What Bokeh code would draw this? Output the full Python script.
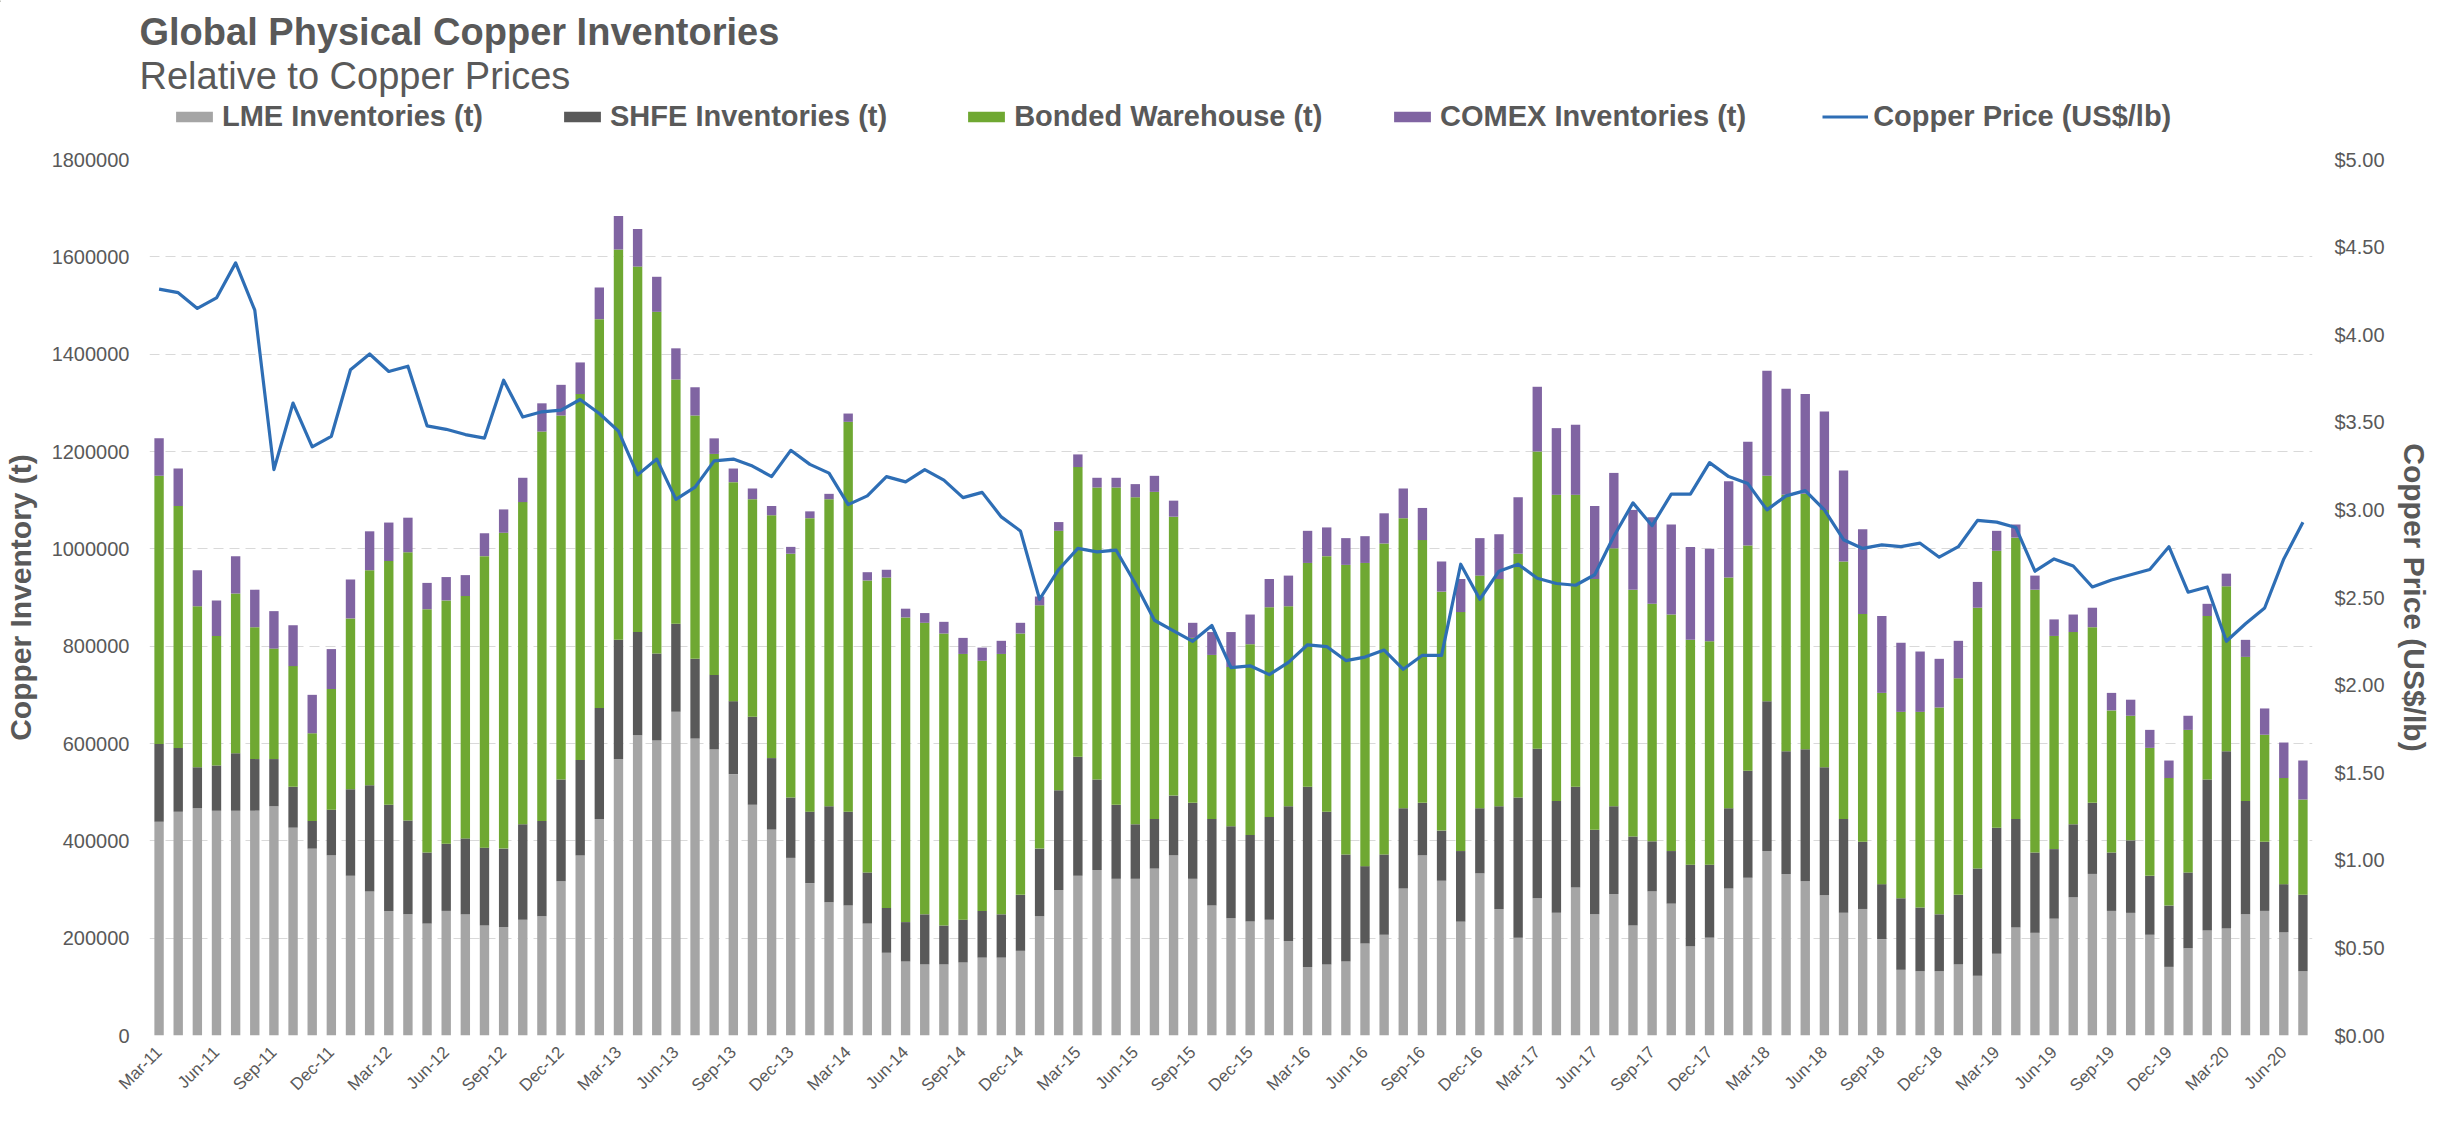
import math
from bokeh.plotting import figure
from bokeh.layouts import column
from bokeh.models import (ColumnDataSource, Range1d, LinearAxis, FixedTicker,
                          NumeralTickFormatter, Legend, LegendItem, Label)
from bokeh.embed import file_html
from bokeh.resources import INLINE

# ---------------- data (monthly, Mar-11 .. Jul-20) ----------------
lme = [439, 460, 467, 462, 462, 462, 471, 427, 384, 370, 328, 296, 256, 249, 230, 256, 249, 226, 223, 238, 245,
       317, 370, 445, 568, 617, 606, 665, 610, 588, 537, 474, 423, 365, 313, 274, 267, 230, 170, 152, 146, 146,
       150, 160, 160, 174, 245, 299, 328, 340, 322, 322, 343, 370, 322, 267, 241, 234, 238, 194,
       141, 146, 152, 189, 207, 302, 370, 318, 234, 333, 260, 201, 282, 252, 304, 249, 291, 226,
       296, 271, 183, 201, 302, 324, 379, 332, 317, 288, 252, 260, 198, 135, 132, 132, 146, 123,
       168, 222, 211, 240, 284, 332, 256, 252, 207, 141, 179, 216, 220, 249, 256, 212, 132]
shfe = [160, 131, 84, 93, 118, 106, 97, 84, 57, 94, 178, 218, 218, 193, 146, 138, 156, 160, 161, 196, 196,
        209, 196, 228, 245, 212, 179, 181, 164, 153, 150, 181, 147, 124, 147, 197, 193, 105, 92, 81, 103, 80,
        88, 96, 89, 115, 139, 205, 245, 186, 152, 112, 102, 123, 156, 178, 189, 178, 211, 277,
        370, 314, 220, 159, 165, 165, 108, 103, 145, 134, 211, 288, 307, 230, 207, 174, 180, 183,
        103, 108, 168, 150, 165, 220, 308, 252, 271, 263, 193, 138, 113, 147, 131, 117, 143, 220,
        259, 223, 165, 143, 150, 146, 120, 149, 121, 126, 156, 310, 364, 233, 142, 99, 157]
bonded = [551, 497, 331, 266, 328, 271, 227, 248, 180, 248, 351, 442, 501, 551, 500, 500, 498, 599, 649, 662, 800,
          748, 752, 799, 802, 751, 702, 502, 500, 454, 450, 447, 499, 501, 603, 631, 801, 600, 679, 626, 599, 600,
          546, 514, 535, 537, 500, 533, 595, 600, 652, 672, 672, 573, 339, 337, 327, 392, 431, 411,
          460, 525, 595, 623, 639, 596, 540, 491, 491, 478, 467, 501, 611, 629, 600, 515, 530, 507,
          488, 486, 462, 459, 474, 463, 463, 527, 525, 529, 529, 468, 393, 383, 402, 425, 445, 536,
          569, 578, 540, 438, 395, 361, 292, 256, 263, 262, 293, 336, 339, 296, 220, 218, 196]
comex = [77, 77, 74, 73, 77, 77, 77, 84, 79, 82, 80, 80, 79, 71, 54, 48, 43, 47, 48, 50, 58,
         63, 65, 65, 69, 77, 72, 64, 58, 32, 28, 22, 19, 14, 14, 11, 17, 17, 16, 18, 20, 24,
         33, 27, 27, 22, 18, 18, 26, 20, 20, 27, 33, 33, 31, 47, 72, 61, 58, 63,
         66, 59, 55, 55, 62, 61, 66, 62, 68, 77, 92, 116, 133, 137, 144, 150, 155, 164,
         178, 185, 191, 190, 198, 213, 216, 218, 205, 202, 187, 174, 158, 142, 124, 100, 77, 53,
         41, 27, 29, 34, 36, 40, 36, 33, 37, 36, 29, 25, 26, 35, 54, 73, 80]
price = [4.26, 4.24, 4.15, 4.21, 4.41, 4.14, 3.23, 3.61, 3.36, 3.42, 3.80, 3.89, 3.79, 3.82, 3.48, 3.46, 3.43, 3.41, 3.74, 3.53, 3.56,
         3.57, 3.63, 3.55, 3.45, 3.20, 3.29, 3.06, 3.13, 3.28, 3.29, 3.25, 3.19, 3.34, 3.26, 3.21, 3.03, 3.08, 3.19, 3.16, 3.23, 3.17,
         3.07, 3.10, 2.96, 2.88, 2.49, 2.66, 2.78, 2.76, 2.77, 2.58, 2.37, 2.31, 2.25, 2.34, 2.10, 2.11, 2.06, 2.13,
         2.23, 2.22, 2.14, 2.16, 2.20, 2.09, 2.17, 2.17, 2.69, 2.49, 2.65, 2.69, 2.61, 2.58, 2.57, 2.63, 2.85, 3.04,
         2.91, 3.09, 3.09, 3.27, 3.19, 3.15, 3.00, 3.08, 3.11, 3.00, 2.83, 2.78, 2.80, 2.79, 2.81, 2.73, 2.79, 2.94,
         2.93, 2.90, 2.65, 2.72, 2.68, 2.56, 2.60, 2.63, 2.66, 2.79, 2.53, 2.56, 2.25, 2.35, 2.44, 2.72, 2.93]

tick_labels = ["Mar-11", "Jun-11", "Sep-11", "Dec-11", "Mar-12", "Jun-12", "Sep-12", "Dec-12",
               "Mar-13", "Jun-13", "Sep-13", "Dec-13", "Mar-14", "Jun-14", "Sep-14", "Dec-14",
               "Mar-15", "Jun-15", "Sep-15", "Dec-15", "Mar-16", "Jun-16", "Sep-16", "Dec-16",
               "Mar-17", "Jun-17", "Sep-17", "Dec-17", "Mar-18", "Jun-18", "Sep-18", "Dec-18",
               "Mar-19", "Jun-19", "Sep-19", "Dec-19", "Mar-20", "Jun-20"]

series_names = ["LME Inventories (t)", "SHFE Inventories (t)", "Bonded Warehouse (t)", "COMEX Inventories (t)"]
line_name = "Copper Price (US$/lb)"
title_text = "Global Physical Copper Inventories"
subtitle_text = "Relative to Copper Prices"

# ---------------- styling ----------------
FONT = "Liberation Sans"
GREY = "#595959"
COLORS = ["#A5A5A5", "#595959", "#6FA832", "#8064A2"]
LINE_COLOR = "#2E6EB5"

W = 2433
HEAD_H = 147            # header (title, subtitle, legend)
MAIN_H = 957            # chart
FL, FR = 149, 2320      # frame left/right in figure px
TOP_B, BOT_B = 12, 60   # main figure top/bottom borders

n = len(lme)
src = ColumnDataSource(dict(
    x=list(range(n)),
    lme=[v * 1000 for v in lme],
    shfe=[v * 1000 for v in shfe],
    bonded=[v * 1000 for v in bonded],
    comex=[v * 1000 for v in comex],
    price=price,
))

# ---------------- header figure ----------------
hf = figure(width=W, height=HEAD_H, output_backend="svg", toolbar_location=None,
            x_range=Range1d(0, W), y_range=Range1d(HEAD_H, 0),
            x_axis_location=None, y_axis_location=None, title=None,
            min_border=0, min_border_left=0, min_border_right=0,
            min_border_top=0, min_border_bottom=0,
            background_fill_color="white", border_fill_color="white")
hf.frame_align = False
hf.outline_line_color = None
hf.xgrid.visible = False
hf.ygrid.visible = False

hf.add_layout(Label(x=139, y=31, text=title_text, text_font=FONT, text_font_size="38px",
                    text_font_style="bold", text_color=GREY, text_baseline="alphabetic"))
hf.add_layout(Label(x=139, y=75, text=subtitle_text, text_font=FONT, text_font_size="38px",
                    text_color=GREY, text_baseline="alphabetic"))

# legend proxies (one point each, placed outside the visible header range)
proxies = [hf.vbar(x=[-1000], top=[1], width=1, color=c, line_color=None) for c in COLORS]
proxy_line = hf.line(x=[-1000, -999], y=[1, 1], line_color=LINE_COLOR, line_width=3.2)

def make_legend(items, loc):
    return Legend(items=items, orientation="horizontal", location=loc,
                  label_text_font=FONT, label_text_font_size="29px",
                  label_text_font_style="bold", label_text_color=GREY,
                  glyph_width=46, glyph_height=13, label_standoff=5, spacing=76,
                  padding=0, margin=0, border_line_color=None,
                  background_fill_alpha=0)

hf.add_layout(make_legend([LegendItem(label=series_names[i], renderers=[proxies[i]]) for i in range(3)],
                          (171, 14)))
hf.add_layout(make_legend([LegendItem(label=series_names[3], renderers=[proxies[3]]),
                           LegendItem(label=line_name, renderers=[proxy_line])],
                          (1389, 14)))

# ---------------- main chart ----------------
p = figure(width=W, height=MAIN_H, output_backend="svg", toolbar_location=None,
           x_range=Range1d(-0.5, n - 0.5), y_range=Range1d(0, 1800000), title=None,
           min_border_left=FL, min_border_right=W - FR,
           min_border_top=TOP_B, min_border_bottom=BOT_B,
           background_fill_color="white", border_fill_color="white")
p.frame_align = False
p.outline_line_color = None
p.extra_y_ranges = {"price": Range1d(0, 5)}

bars = p.vbar_stack(["lme", "shfe", "bonded", "comex"], x="x", width=0.49,
                    color=COLORS, line_color=None, source=src)
ln = p.line("x", "price", source=src, y_range_name="price",
            line_color=LINE_COLOR, line_width=3.2, line_join="round")

# x axis
xa = p.xaxis[0]
xa.ticker = FixedTicker(ticks=list(range(0, n, 3)))
xa.major_label_overrides = {i * 3: lab for i, lab in enumerate(tick_labels)}
xa.major_label_orientation = math.pi / 4
xa.major_label_text_font = FONT
xa.major_label_text_font_size = "17px"
xa.major_label_text_color = GREY
xa.major_label_standoff = 8
xa.axis_line_color = None
xa.major_tick_line_color = None
xa.minor_tick_line_color = None

# left axis
ya = p.yaxis[0]
ya.ticker = FixedTicker(ticks=list(range(0, 1800001, 200000)))
ya.formatter = NumeralTickFormatter(format="0")
ya.major_label_text_font = FONT
ya.major_label_text_font_size = "20px"
ya.major_label_text_color = GREY
ya.major_label_standoff = 14
ya.axis_line_color = None
ya.major_tick_line_color = None
ya.minor_tick_line_color = None
ya.axis_label = "Copper Inventory (t)"
ya.axis_label_text_font = FONT
ya.axis_label_text_font_size = "30px"
ya.axis_label_text_font_style = "bold"
ya.axis_label_text_color = GREY
ya.axis_label_standoff = 12

# right axis
ra = LinearAxis(y_range_name="price",
                ticker=FixedTicker(ticks=[0, 0.5, 1, 1.5, 2, 2.5, 3, 3.5, 4, 4.5, 5]),
                formatter=NumeralTickFormatter(format="$0.00"))
ra.major_label_text_font = FONT
ra.major_label_text_font_size = "20px"
ra.major_label_text_color = GREY
ra.major_label_standoff = 16
ra.axis_line_color = None
ra.major_tick_line_color = None
ra.minor_tick_line_color = None
ra.axis_label = "Copper Price (US$/lb)"
ra.axis_label_text_font = FONT
ra.axis_label_text_font_size = "30px"
ra.axis_label_text_font_style = "bold"
ra.axis_label_text_color = GREY
ra.axis_label_standoff = 10
p.add_layout(ra, "right")

# grid
p.xgrid.grid_line_color = None
p.ygrid.ticker = ya.ticker
p.ygrid.grid_line_color = "#D9D9D9"
p.ygrid.grid_line_width = 1.2
p.ygrid.grid_line_dash = "10 6"

layout = column(hf, p, spacing=0)
open("out.html", "w").write(file_html(layout, INLINE))
